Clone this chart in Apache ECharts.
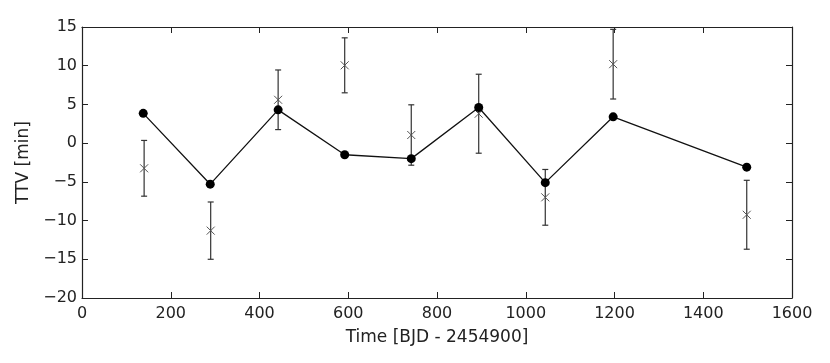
<!DOCTYPE html>
<html>
<head>
<meta charset="utf-8">
<script src="https://cdn.jsdelivr.net/npm/echarts@6/dist/echarts.min.js"></script>
<style>
  html, body { margin: 0; padding: 0; background: #fff; }
  #chart { width: 830px; height: 363px; }
</style>
</head>
<body>
<div id="chart"></div>
<script>
// model TTV (line with dots)
const modelTime = [138, 289, 442, 592, 742, 894, 1044, 1197, 1498]
const modelTTV = [3.85, -5.3, 4.3, -1.5, -2.0, 4.6, -5.1, 3.4, -3.1]

// observed TTV with errors (x markers)
const obsTime = [140, 290, 442, 592, 742, 894, 1044, 1197, 1498]
const obsTTV = [-3.25, -11.3, 5.6, 10.05, 1.05, 3.8, -7.0, 10.2, -9.25]
const obsErr = [3.6, 3.7, 3.85, 3.55, 3.9, 5.1, 3.6, 4.5, 4.45]

const xTicks = { min: 0, max: 1600, interval: 200 }
const yTicks = { min: -20, max: 15, interval: 5 }

const font = 'DejaVu Sans'
const axisColor = '#222'

const minus = (v) => String(v).replace('-', '\u2212')

const chart = echarts.init(document.getElementById('chart'))

const baseAxis = {
  axisLine: { show: true, onZero: false, lineStyle: { color: axisColor, width: 1.2 } },
  axisTick: { show: true, inside: true, length: 6, lineStyle: { color: axisColor } },
  splitLine: { show: false },
}

const obsData = obsTime.map((t, i) => [t, obsTTV[i], obsErr[i]])

const option = {
  backgroundColor: '#fff',
  animation: false,
  grid: { left: 82, right: 38, top: 27, bottom: 65 },
  xAxis: [
    {
      type: 'value',
      ...xTicks,
      ...baseAxis,
      name: 'Time [BJD - 2454900]',
      nameLocation: 'middle',
      nameGap: 31,
      nameTextStyle: { fontFamily: font, fontSize: 17, color: '#222' },
      axisLabel: {
        fontFamily: font, fontSize: 16, color: '#222', margin: 8,
        formatter: minus,
      },
    },
    {
      type: 'value',
      ...xTicks,
      ...baseAxis,
      position: 'top',
      axisLabel: { show: false },
    },
  ],
  yAxis: [
    {
      type: 'value',
      ...yTicks,
      ...baseAxis,
      name: 'TTV [min]',
      nameLocation: 'middle',
      nameRotate: 90,
      nameGap: 48,
      nameTextStyle: { fontFamily: font, fontSize: 17, color: '#222' },
      axisLabel: {
        fontFamily: font, fontSize: 16, color: '#222', margin: 5,
        formatter: minus,
      },
    },
    {
      type: 'value',
      ...yTicks,
      ...baseAxis,
      position: 'right',
      axisLabel: { show: false },
    },
  ],
  series: [
    {
      name: 'observed',
      type: 'custom',
      z: 2,
      data: obsData,
      renderItem: (params, api) => {
        const t = api.value(0)
        const v = api.value(1)
        const e = api.value(2)
        const top = api.coord([t, v + e])
        const bot = api.coord([t, v - e])
        const mid = api.coord([t, v])
        const cap = 3
        const m = 4
        const stroke = { stroke: '#333', lineWidth: 1.2 }
        return {
          type: 'group',
          children: [
            { type: 'line', shape: { x1: top[0], y1: top[1], x2: bot[0], y2: bot[1] }, style: stroke },
            { type: 'line', shape: { x1: top[0] - cap, y1: top[1], x2: top[0] + cap, y2: top[1] }, style: stroke },
            { type: 'line', shape: { x1: bot[0] - cap, y1: bot[1], x2: bot[0] + cap, y2: bot[1] }, style: stroke },
            { type: 'line', shape: { x1: mid[0] - m, y1: mid[1] - m, x2: mid[0] + m, y2: mid[1] + m }, style: { stroke: '#555', lineWidth: 1 } },
            { type: 'line', shape: { x1: mid[0] - m, y1: mid[1] + m, x2: mid[0] + m, y2: mid[1] - m }, style: { stroke: '#555', lineWidth: 1 } },
          ],
        }
      },
    },
    {
      name: 'model',
      type: 'line',
      z: 3,
      data: modelTime.map((t, i) => [t, modelTTV[i]]),
      symbol: 'circle',
      symbolSize: 9,
      showSymbol: true,
      itemStyle: { color: '#000' },
      lineStyle: { color: '#111', width: 1.3 },
    },
  ],
}

chart.setOption(option)
</script>
</body>
</html>
